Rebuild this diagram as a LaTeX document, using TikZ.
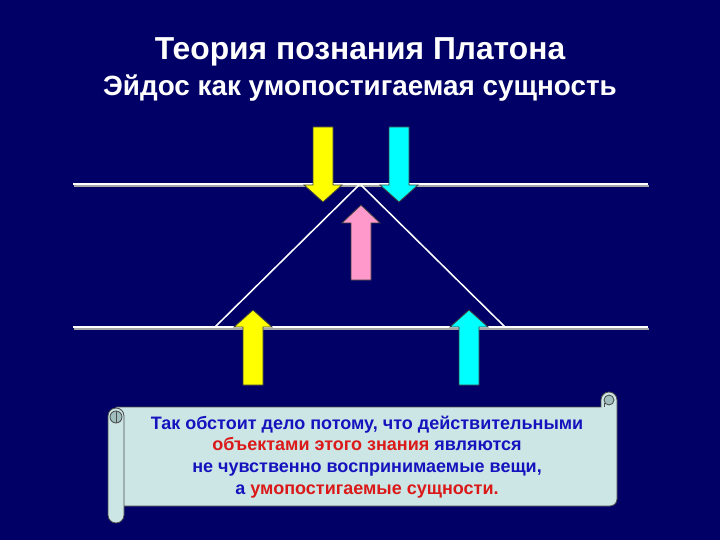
\documentclass[tikz,border=0pt]{standalone}
\usepackage{fontspec}
\setmainfont{Liberation Sans}
\usetikzlibrary{calc, positioning}
\definecolor{slideBg}{RGB}{0,0,102}
\definecolor{scrollFill}{RGB}{204,230,230}
\definecolor{scrollDark}{RGB}{160,190,190}
\definecolor{txtBlue}{RGB}{20,20,190}
\definecolor{txtRed}{RGB}{220,25,25}
\definecolor{arrPink}{RGB}{255,153,204}
\definecolor{arrCyan}{RGB}{0,255,255}
\definecolor{arrYellow}{RGB}{255,255,0}
\tikzset{
    planeLine/.style={draw=white, line width=1.4pt},
    planeShadow/.style={draw=gray!70, line width=1pt},
    blockArr/.style={draw=black!75, line width=0.6pt, line join=miter},
    scrollEdge/.style={draw=black!70, line width=0.6pt},
    titleText/.style={text=white, font=\bfseries\fontsize{22.6}{26}\selectfont},
    subText/.style={text=white, font=\bfseries\fontsize{19.8}{23}\selectfont},
}
% #1 colour, #2 x, #3 tail y, #4 head base y, #5 tip y
\newcommand{\drawBlockArrow}[5]{
    \fill[#1] ({#2-10},#3) -- ({#2-10},#4) -- ({#2-19},#4) -- (#2,#5) -- ({#2+19},#4) -- ({#2+10},#4) -- ({#2+10},#3) -- cycle;
    \draw[blockArr] ({#2-10},#3) -- ({#2-10},#4) -- ({#2-19},#4) -- (#2,#5) -- ({#2+19},#4) -- ({#2+10},#4) -- ({#2+10},#3) -- cycle;
}

\begin{document}
\begin{tikzpicture}[x=0.025cm, y=0.025cm]

        \fill[slideBg] (0,0) rectangle (720,540);
        \useasboundingbox (0,0) rectangle (720,540);

        % title
        \node[titleText] (title) at (360,488) {Теория познания Платона};
        \node[subText] (subtitle) at (360,452) {Эйдос как умопостигаемая сущность};

        % planes and triangle
        \coordinate (upL) at (73,356);
        \coordinate (upR) at (648,356);
        \coordinate (loL) at (73,213);
        \coordinate (loR) at (648,213);
        \coordinate (apex) at (360,356);
        \coordinate (baseL) at (215,213);
        \coordinate (baseR) at (505,213);

        \draw[planeShadow] ($(upL)+(1,-2)$) -- ($(upR)+(1,-2)$);
        \draw[planeShadow] ($(loL)+(1,-2)$) -- ($(loR)+(1,-2)$);
        \draw[planeLine] (upL) -- (upR);
        \draw[planeLine] (loL) -- (loR);
        \draw[planeLine, line width=1.1pt] (baseL) -- (apex) -- (baseR);

        % arrows
        \drawBlockArrow{arrYellow}{323}{413}{355}{338}
        \drawBlockArrow{arrCyan}{399}{413}{355}{338}
        \drawBlockArrow{arrPink}{361}{260}{317}{335}
        \drawBlockArrow{arrYellow}{253}{155}{213}{230}
        \drawBlockArrow{arrCyan}{469}{155}{213}{230}

        % scroll
        \draw[scrollEdge, fill=scrollFill] (116,133) -- (601,133) -- (601,140)
            arc[start angle=180, end angle=0, radius=8] -- (617,41)
            arc[start angle=0, end angle=-90, radius=7] -- (116,34) -- cycle;
        \draw[scrollEdge, fill=scrollDark] (609,140) circle[radius=5];
        \draw[scrollEdge] (604,137) -- (604,133);
        \draw[scrollEdge, fill=scrollFill] (108,124) arc[start angle=180, end angle=0, radius=8]
            -- (124,25) arc[start angle=0, end angle=-180, radius=8] -- cycle;
        \draw[scrollEdge, fill=scrollDark] (116,123) circle[radius=6];
        \draw[scrollEdge] (116,129) -- (116,117);

        \node[align=center, font=\bfseries\fontsize{12.8}{15.5}\selectfont, text=txtBlue] (quote) at (367,83) {%
            Так обстоит дело потому, что действительными\\
            \textcolor{txtRed}{объектами этого знания} являются\\
            не чувственно воспринимаемые вещи,\\
            а \textcolor{txtRed}{умопостигаемые сущности.}};

    \end{tikzpicture}
\end{document}
